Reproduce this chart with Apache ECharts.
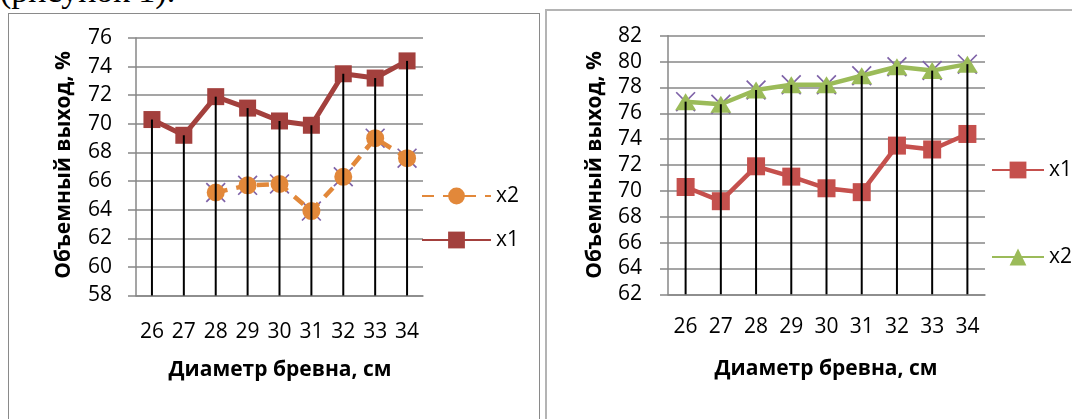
<!DOCTYPE html>
<html>
<head>
<meta charset="utf-8">
<script src="https://cdn.jsdelivr.net/npm/echarts/dist/echarts.min.js"></script>
<style>
  html, body { margin: 0; padding: 0; background: #fff; overflow: hidden; }
  body { width: 1072px; height: 419px; position: relative; }
  .caption {
    position: absolute; left: 0; top: -26px; margin: 0;
    font-family: "Liberation Serif", "Times New Roman", serif;
    font-size: 34px; line-height: 34px; color: #000; white-space: nowrap;
  }
  .frame { position: absolute; box-sizing: border-box; }
  #frameLeft { left: 8px; top: 13px; width: 532px; height: 500px; border: 1.5px solid #8a8a8a; }
  #frameRight { left: 545px; top: 9px; width: 600px; height: 500px; border: 2px solid #b4b4b4; }
  .chart { position: absolute; top: 0; height: 419px; }
  #chartLeft { left: 0; width: 541px; }
  #chartRight { left: 541px; width: 531px; }
</style>
</head>
<body>
<div class="caption">(рисунок 1).</div>
<div class="frame" id="frameLeft"></div>
<div class="frame" id="frameRight"></div>
<div class="chart" id="chartLeft"></div>
<div class="chart" id="chartRight"></div>
<script>
// Log diameters, cm
const diameters = ['26', '27', '28', '29', '30', '31', '32', '33', '34'];
// Volume yield, % — series x1 (shared by both charts)
const yieldX1 = [70.3, 69.2, 71.9, 71.1, 70.2, 69.9, 73.5, 73.2, 74.4];
// Volume yield, % — series x2, left chart (no values for 26 and 27)
const yieldX2Left = [null, null, 65.2, 65.7, 65.8, 63.9, 66.3, 69.0, 67.6];
// Volume yield, % — series x2, right chart
const yieldX2Right = [76.9, 76.7, 77.8, 78.2, 78.2, 78.9, 79.6, 79.3, 79.8];
// Value axis ranges
const leftAxis = { min: 58, max: 76, step: 2 };
const rightAxis = { min: 62, max: 82, step: 2 };

const yTitle = 'Объемный выход, %';
const xTitle = 'Диаметр бревна, см';

const labelFont = '"Open Sans", "Liberation Sans", Arial, sans-serif';
const titleFont = '"Open Sans", "Liberation Sans", Arial, sans-serif';
const gridGray = '#878787';
const purple = '#7f63a8';
// thin diagonal cross drawn behind the x2 markers
const crossPath = 'path://M0,1.2L1.2,0L20,18.8L18.8,20Z M18.8,0L20,1.2L1.2,20L0,18.8Z';

// vertical drop lines from the highest point of each category down to the axis floor
function dropLines(seriesList, axisMin) {
  const data = diameters.map((d, i) => {
    const vals = seriesList.map(s => s[i]).filter(v => v != null);
    return [i, Math.max(...vals)];
  });
  return {
    type: 'custom',
    z: 6,
    silent: true,
    data: data,
    renderItem: function (params, api) {
      const top = api.coord([api.value(0), api.value(1)]);
      const bottom = api.coord([api.value(0), axisMin]);
      return {
        type: 'line',
        shape: { x1: top[0], y1: top[1], x2: bottom[0], y2: bottom[1] },
        style: { stroke: '#000', lineWidth: 2 }
      };
    }
  };
}

function crossMarks(values, size) {
  return {
    type: 'line',
    name: 'cross',
    data: values,
    z: 1,
    silent: true,
    symbol: crossPath,
    symbolSize: size,
    showSymbol: true,
    itemStyle: { color: purple },
    lineStyle: { opacity: 0 },
    emphasis: { disabled: true }
  };
}

function baseAxes(range, grid, labelMargins) {
  return {
    grid: grid,
    xAxis: {
      type: 'category',
      data: diameters,
      boundaryGap: true,
      axisLine: { show: true, lineStyle: { color: gridGray, width: 1.5 } },
      axisTick: { show: false },
      splitLine: { show: false },
      axisLabel: { color: '#000', fontSize: 21, fontFamily: labelFont, margin: labelMargins.x }
    },
    yAxis: {
      type: 'value',
      min: range.min,
      max: range.max,
      interval: range.step,
      axisLine: { show: true, lineStyle: { color: gridGray, width: 1.5 } },
      axisTick: { show: true, length: 8, lineStyle: { color: gridGray, width: 1.5 } },
      splitLine: { show: true, lineStyle: { color: gridGray, width: 1.5 } },
      axisLabel: { color: '#000', fontSize: 21, fontFamily: labelFont, margin: labelMargins.y }
    }
  };
}

function titles(yx, yy, xx, xy) {
  const style = { fill: '#000', font: 'bold 21px ' + titleFont, align: 'center', verticalAlign: 'middle' };
  return [
    { type: 'text', x: yx, y: yy, rotation: Math.PI / 2, style: Object.assign({ text: yTitle }, style) },
    { type: 'text', x: xx, y: xy, style: Object.assign({ text: xTitle }, style) }
  ];
}

// Left chart: x1 (dark red squares) and x2 (orange dashed circles)
const left = echarts.init(document.getElementById('chartLeft'), null, { renderer: 'canvas' });
const leftOpt = baseAxes(leftAxis, { left: 136, top: 38, width: 287, height: 257.5 }, { x: 26, y: 24 });
leftOpt.animation = false;
leftOpt.legend = {
  orient: 'vertical', left: 421, top: 185.5, padding: 0, itemWidth: 69, itemHeight: 21, itemGap: 23,
  data: ['x2', 'x1'], selectedMode: false,
  textStyle: { color: '#000', fontSize: 21, fontFamily: labelFont }
};
leftOpt.graphic = titles(64, 165, 280, 370);
leftOpt.series = [
  crossMarks(yieldX2Left, 20),
  {
    type: 'line', name: 'x2', data: yieldX2Left, z: 3,
    symbol: 'circle', symbolSize: 18,
    itemStyle: { color: '#e2883a' },
    lineStyle: { color: '#e2883a', width: 4.5, type: [12, 9] }
  },
  {
    type: 'line', name: 'x1', data: yieldX1, z: 3,
    symbol: 'rect', symbolSize: 17,
    itemStyle: { color: '#a3403d' },
    lineStyle: { color: '#a3403d', width: 5 }
  },
  dropLines([yieldX1, yieldX2Left], leftAxis.min)
];
left.setOption(leftOpt);

// Right chart: x1 (red squares) and x2 (green triangles)
const right = echarts.init(document.getElementById('chartRight'), null, { renderer: 'canvas' });
const rightOpt = baseAxes(rightAxis, { left: 127, top: 35.7, width: 317, height: 258.6 }, { x: 22, y: 26 });
rightOpt.animation = false;
rightOpt.legend = {
  orient: 'vertical', left: 450, top: 159.5, padding: 0, itemWidth: 52, itemHeight: 21, itemGap: 66,
  data: ['x1', 'x2'], selectedMode: false,
  textStyle: { color: '#000', fontSize: 21, fontFamily: labelFont }
};
rightOpt.graphic = titles(54, 165, 285, 369);
rightOpt.series = [
  crossMarks(yieldX2Right, 20),
  {
    type: 'line', name: 'x1', data: yieldX1, z: 3,
    symbol: 'rect', symbolSize: 18,
    itemStyle: { color: '#c5504d' },
    lineStyle: { color: '#c5504d', width: 4.5 }
  },
  {
    type: 'line', name: 'x2', data: yieldX2Right, z: 3,
    symbol: 'triangle', symbolSize: [21, 17],
    itemStyle: { color: '#9bbb59' },
    lineStyle: { color: '#9bbb59', width: 4.5 }
  },
  dropLines([yieldX1, yieldX2Right], rightAxis.min)
];
right.setOption(rightOpt);
</script>
</body>
</html>
